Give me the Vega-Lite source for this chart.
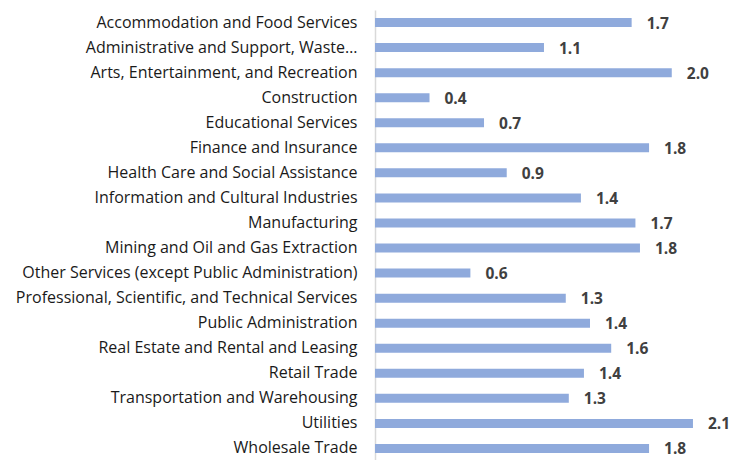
{
  "$schema": "https://vega.github.io/schema/vega-lite/v6.json",
  "width": 359,
  "height": 451,
  "autosize": {"type": "none"},
  "padding": {"left": 375, "top": 10, "right": 0, "bottom": 0},
  "background": "white",
  "config": {"view": {"stroke": null}},
  "data": {
    "values": [
      {"industry": "Accommodation and Food Services", "value": 1.695},
      {"industry": "Administrative and Support, Waste…", "value": 1.116},
      {"industry": "Arts, Entertainment, and Recreation", "value": 1.96},
      {"industry": "Construction", "value": 0.36},
      {"industry": "Educational Services", "value": 0.72},
      {"industry": "Finance and Insurance", "value": 1.81},
      {"industry": "Health Care and Social Assistance", "value": 0.87},
      {"industry": "Information and Cultural Industries", "value": 1.36},
      {"industry": "Manufacturing", "value": 1.72},
      {"industry": "Mining and Oil and Gas Extraction", "value": 1.75},
      {"industry": "Other Services (except Public Administration)", "value": 0.63},
      {"industry": "Professional, Scientific, and Technical Services", "value": 1.26},
      {"industry": "Public Administration", "value": 1.42},
      {"industry": "Real Estate and Rental and Leasing", "value": 1.56},
      {"industry": "Retail Trade", "value": 1.38},
      {"industry": "Transportation and Warehousing", "value": 1.28},
      {"industry": "Utilities", "value": 2.1},
      {"industry": "Wholesale Trade", "value": 1.81}
    ]
  },
  "encoding": {
    "y": {
      "field": "industry",
      "type": "nominal",
      "sort": null,
      "scale": {"paddingInner": 0.64, "paddingOuter": 0.32},
      "axis": {
        "title": null,
        "ticks": false,
        "domainColor": "#d9d9d9",
        "domainWidth": 1.5,
        "labelFont": "Open Sans",
        "labelFontSize": 16,
        "labelColor": "#1a1a1a",
        "labelPadding": 18,
        "labelLimit": 400
      }
    },
    "x": {
      "field": "value",
      "type": "quantitative",
      "scale": {"domain": [0, 2.371], "nice": false},
      "axis": null
    }
  },
  "layer": [
    {"mark": {"type": "bar", "color": "#8faadc"}},
    {
      "mark": {
        "type": "text",
        "align": "left",
        "baseline": "middle",
        "dx": 15,
        "dy": 1,
        "font": "Open Sans",
        "fontSize": 15.5,
        "fontWeight": "bold",
        "color": "#404040"
      },
      "encoding": {"text": {"field": "value", "type": "quantitative", "format": ".1f"}}
    }
  ]
}
